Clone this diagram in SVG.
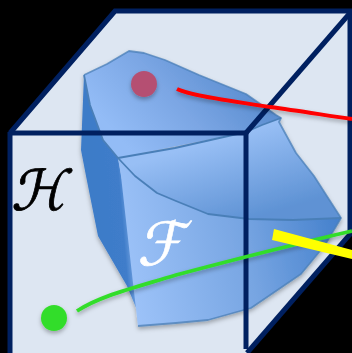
<svg xmlns="http://www.w3.org/2000/svg" width="352" height="353" viewBox="0 0 352 353">
<style>
.edge{fill:none;stroke:#002060;stroke-width:5;stroke-linejoin:miter}
.crease{fill:none;stroke:#4a7fb8;stroke-width:1.8;stroke-linejoin:round}
.ray{fill:none;stroke-width:3.8;stroke-linecap:butt;filter:url(#soft)}
.sym{font-family:"DejaVu Sans",sans-serif}
</style>
<defs>
<filter id="soft" x="-20%" y="-20%" width="140%" height="150%"><feDropShadow dx="0" dy="2.5" stdDeviation="2" flood-color="#000" flood-opacity="0.3"/></filter>
<linearGradient id="top" gradientUnits="userSpaceOnUse" x1="230" y1="60" x2="130" y2="150"><stop offset="0" stop-color="#5a8dd0"/><stop offset="0.5" stop-color="#7ba6e4"/><stop offset="1" stop-color="#93bcf6"/></linearGradient>
<linearGradient id="front" gradientUnits="userSpaceOnUse" x1="125" y1="260" x2="340" y2="215"><stop offset="0" stop-color="#9cc2f8"/><stop offset="0.55" stop-color="#77a5e2"/><stop offset="1" stop-color="#4480cc"/></linearGradient>
<linearGradient id="upper" gradientUnits="userSpaceOnUse" x1="230" y1="135" x2="255" y2="218"><stop offset="0" stop-color="#98bff5"/><stop offset="1" stop-color="#5e92d4"/></linearGradient>
<linearGradient id="side" gradientUnits="userSpaceOnUse" x1="95" y1="200" x2="130" y2="197"><stop offset="0" stop-color="#3d7bc8"/><stop offset="0.72" stop-color="#3f7dca"/><stop offset="1" stop-color="#7ba8e4"/></linearGradient>
</defs>
<rect width="352" height="353" fill="#000"/>
<polygon id="box" points="10,132 115,11 352,11 352,232 247,353 10,353" fill="#dde6f2"/>
<g class="edge"><path id="back-top" d="M10,133 L115,11 H352"/><path id="back-right" d="M350,11 V232"/><path id="bottom-diag" d="M352,232 L247,353"/><path id="left" d="M10,132 V353"/></g>
<g id="polytope" filter="url(#soft)">
<polygon fill="url(#side)" points="84,75 81,150 86,176 98,236 127,286 137,310 138,326 135,250 118,158"/>
<polygon fill="url(#top)" points="84,75 107,64 129,51 144,53 165,60 199,75 246,94 276,115 281,118 262,125 246,132 118,158 103,140 90,105"/>
<polygon fill="url(#upper)" points="118,158 175,148 246,132 262,125 281,118 279,122 296,153 314,176 341,218 293,220 249,219 208,214 176,201 157,193 135,176"/>
<polygon fill="url(#front)" points="118,158 135,176 157,193 176,201 208,214 249,219 293,220 341,218 325,245 301,274 251,308 208,320 176,323 138,326 133,283 121,176"/>
<path class="crease" d="M84,75 L107,64 L129,51 L144,53 L165,60 L199,75 L246,94 L276,115 L281,118 L279,122 L296,153 L314,176 L341,218 L325,245 L301,274 L251,308 L208,320 L176,323 L138,326" stroke-opacity="0.75"/>
<path class="crease" d="M84,75 L90,105 L103,140 L118,158 L135,176 L157,193 L176,201 L208,214 L249,219 L293,220 L341,218"/>
<path class="crease" d="M118,158 L175,148 L246,132 L262,125 L281,118"/>
</g>
<circle id="pink-dot" cx="144" cy="84" r="13" fill="#b55072" filter="url(#soft)"/>
<g class="edge"><path id="front-top" d="M10,133 H247"/><path id="front-right" d="M246,133 V349"/><path id="top-diag" d="M246,133 L350,13"/></g>
<g id="connectors">
<path class="ray" stroke="#ff0000" d="M177,89 C190,96 240,102 270,107 C300,111 330,116 352,119"/>
<path class="ray" stroke="#33dd2a" d="M77,311 C100,296 130,289 176,275 C240,258 300,243 352,231"/>
</g>
<polygon id="yellow-bar" points="274,229 352,250 352,259 272,240" fill="#ffff00"/>
<circle id="green-dot" cx="54" cy="318" r="13" fill="#33dd2a" filter="url(#soft)"/>
<text id="label-h" class="sym" x="0" y="0" font-size="56" fill="#000" stroke="#000" stroke-width="0.8" transform="translate(11,210) skewX(-12)">ℋ</text>
<text id="label-f" class="sym" x="0" y="0" font-size="60" fill="#fff" stroke="#fff" stroke-width="0.6" transform="translate(137,265) skewX(-12)">ℱ</text>
</svg>
